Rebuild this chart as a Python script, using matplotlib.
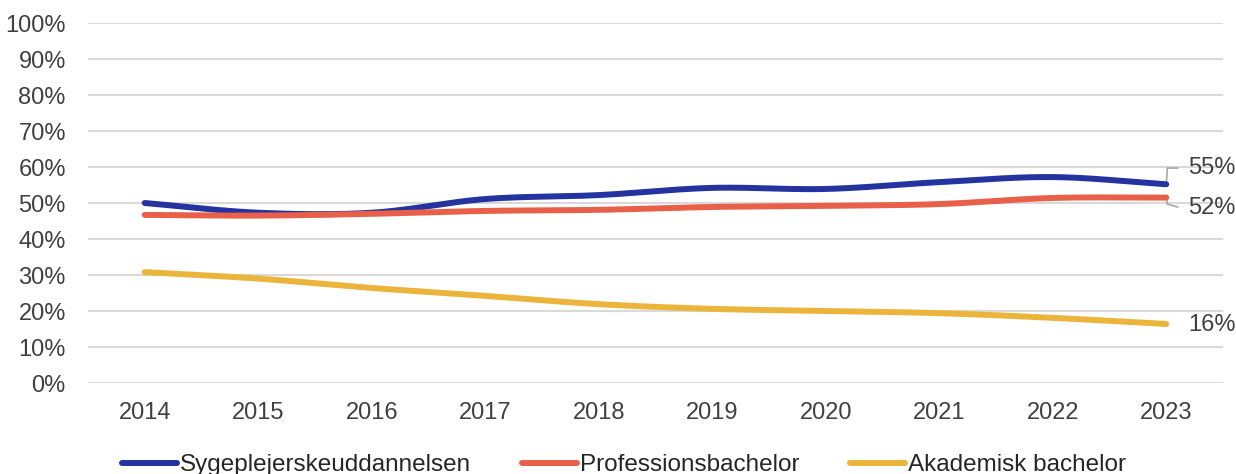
import numpy as np
import matplotlib.pyplot as plt

plt.rcParams['font.family'] = ['Liberation Sans', 'DejaVu Sans']

years = ['2014', '2015', '2016', '2017', '2018', '2019', '2020', '2021', '2022', '2023']
sygepleje = [0.500, 0.473, 0.473, 0.511, 0.522, 0.542, 0.539, 0.558, 0.572, 0.552]
professions = [0.467, 0.465, 0.470, 0.478, 0.481, 0.489, 0.492, 0.497, 0.514, 0.515]
akademisk = [0.308, 0.290, 0.264, 0.242, 0.219, 0.206, 0.200, 0.194, 0.181, 0.164]

series = [
    ('Sygeplejerskeuddannelsen', sygepleje, '#2433A0'),
    ('Professionsbachelor', professions, '#E9604A'),
    ('Akademisk bachelor', akademisk, '#EBB53C'),
]


def smooth(y, n=20):
    # Catmull-Rom curve through the points, like Excel's smoothed lines
    y = np.asarray(y, dtype=float)
    x = np.arange(len(y), dtype=float)
    px = np.concatenate([[2 * x[0] - x[1]], x, [2 * x[-1] - x[-2]]])
    py = np.concatenate([[2 * y[0] - y[1]], y, [2 * y[-1] - y[-2]]])
    xs, ys = [], []
    t = np.linspace(0, 1, n, endpoint=False)
    for i in range(1, len(px) - 2):
        for arr, out in ((px, xs), (py, ys)):
            p0, p1, p2, p3 = arr[i - 1], arr[i], arr[i + 1], arr[i + 2]
            out.extend(0.5 * (2 * p1 + (-p0 + p2) * t
                              + (2 * p0 - 5 * p1 + 4 * p2 - p3) * t ** 2
                              + (-p0 + 3 * p1 - 3 * p2 + p3) * t ** 3))
    xs.append(x[-1])
    ys.append(y[-1])
    return np.array(xs), np.array(ys)


fig = plt.figure(figsize=(12.36, 4.74), dpi=100)
ax = fig.add_axes([88 / 1236, (474 - 383) / 474, (1223 - 88) / 1236, 360 / 474])

handles = []
for name, vals, col in series:
    xs, ys = smooth(vals)
    h, = ax.plot(xs, ys, color=col, lw=4.3, solid_capstyle='round', label=name, zorder=3)
    handles.append(h)

ax.set_xlim(-0.5, len(years) - 0.5)
ax.set_ylim(0, 1.0)
ax.set_xticks(range(len(years)))
ax.set_xticklabels(years)
ax.set_yticks(np.arange(0, 1.01, 0.1))
ax.set_yticklabels([f'{int(round(v * 100))}%' for v in np.arange(0, 1.01, 0.1)])
ax.grid(axis='y', color='#D9D9D9', lw=1.5)
ax.set_axisbelow(True)
for s in ax.spines.values():
    s.set_visible(False)
ax.tick_params(length=0, labelsize=17, labelcolor='#404040')
ax.tick_params(axis='y', pad=16)
ax.tick_params(axis='x', pad=14)

# end labels with leader lines
last = len(years) - 1
lc = '#A6A6A6'
ax.plot([last, last + 0.01, last + 0.1], [sygepleje[-1], 0.597, 0.597], color=lc, lw=1.2, clip_on=False, zorder=2)
ax.plot([last, last + 0.01, last + 0.1], [professions[-1], 0.497, 0.489], color=lc, lw=1.2, clip_on=False, zorder=2)
ax.text(last + 0.19, 0.597, f'{sygepleje[-1]:.0%}', fontsize=17, color='#404040', va='center', clip_on=False)
ax.text(last + 0.19, 0.486, f'{professions[-1]:.0%}', fontsize=17, color='#404040', va='center', clip_on=False)
ax.text(last + 0.19, 0.161, f'{akademisk[-1]:.0%}', fontsize=17, color='#404040', va='center', clip_on=False)

fig.legend(handles=handles, loc='center', bbox_to_anchor=(624 / 1236, 1 - 465 / 474),
           ncol=3, frameon=False, fontsize=17.5, handlelength=2.26, handletextpad=0.12,
           columnspacing=2.1, labelcolor='#262626')

fig.savefig('out.png', dpi=100)
